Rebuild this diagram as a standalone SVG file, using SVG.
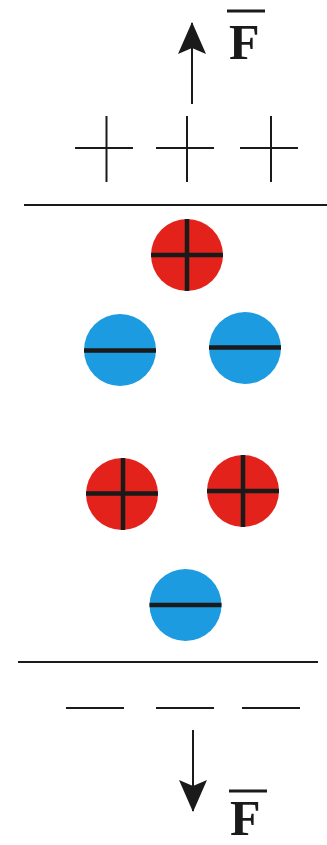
<svg xmlns="http://www.w3.org/2000/svg" width="327" height="845" viewBox="0 0 327 845">
<style>
.ln{stroke:#1a1a1a;stroke-width:2;fill:none}
.bar{stroke:#1a1a1a;stroke-width:4.5;fill:none}
.pos{fill:#e3231b}
.neg{fill:#1d9be0}
.f{font-family:"Liberation Serif",serif;font-weight:bold;font-size:50px;fill:#1a1a1a}
</style>
<defs>
<marker id="ah" viewBox="0 0 32 28" refX="31" refY="14" markerWidth="32" markerHeight="28" markerUnits="userSpaceOnUse" orient="auto-start-reverse">
<path d="M32 14 L0 0 L6 14 L0 28 Z" fill="#1a1a1a"/>
</marker>
</defs>
<g id="connectors">
<line class="ln" x1="192" y1="104" x2="192" y2="23" stroke-width="3" marker-end="url(#ah)"/>
<line class="ln" x1="193" y1="730" x2="193" y2="811" stroke-width="3" marker-end="url(#ah)"/>
</g>
<g id="forceTop">
<line x1="227" y1="11" x2="265" y2="11" stroke="#1a1a1a" stroke-width="3"/>
<text class="f" x="229" y="59">F</text>
</g>
<g id="forceBottom">
<line x1="229" y1="791" x2="267" y2="791" stroke="#1a1a1a" stroke-width="3"/>
<text class="f" x="230" y="835">F</text>
</g>
<g id="plusCharges">
<path class="ln" d="M75 148H133M106.5 116V182"/>
<path class="ln" d="M156 148H214M187 116V182"/>
<path class="ln" d="M240 148H298M271 116V182"/>
</g>
<g id="topPlate"><line class="ln" x1="24" y1="205" x2="327" y2="205"/></g>
<g id="ion1"><circle class="pos" cx="187" cy="255" r="36"/><path class="bar" d="M151 255H223M187 219V291"/></g>
<g id="ion2"><circle class="neg" cx="120" cy="350" r="36"/><path class="bar" d="M84 350.5H156"/></g>
<g id="ion3"><circle class="neg" cx="245" cy="348" r="36"/><path class="bar" d="M209 347.5H281"/></g>
<g id="ion4"><circle class="pos" cx="122" cy="494" r="36"/><path class="bar" d="M86 493.5H158M123 458V530"/></g>
<g id="ion5"><circle class="pos" cx="243" cy="491" r="36"/><path class="bar" d="M207 491H279M243 455V527"/></g>
<g id="ion6"><circle class="neg" cx="185.5" cy="605" r="36"/><path class="bar" d="M149.5 605H221.5"/></g>
<g id="bottomPlate"><line class="ln" x1="18" y1="662" x2="318" y2="662"/></g>
<g id="minusCharges">
<path class="ln" d="M66 708H124M156 708H214M242 708H300"/>
</g>
</svg>
